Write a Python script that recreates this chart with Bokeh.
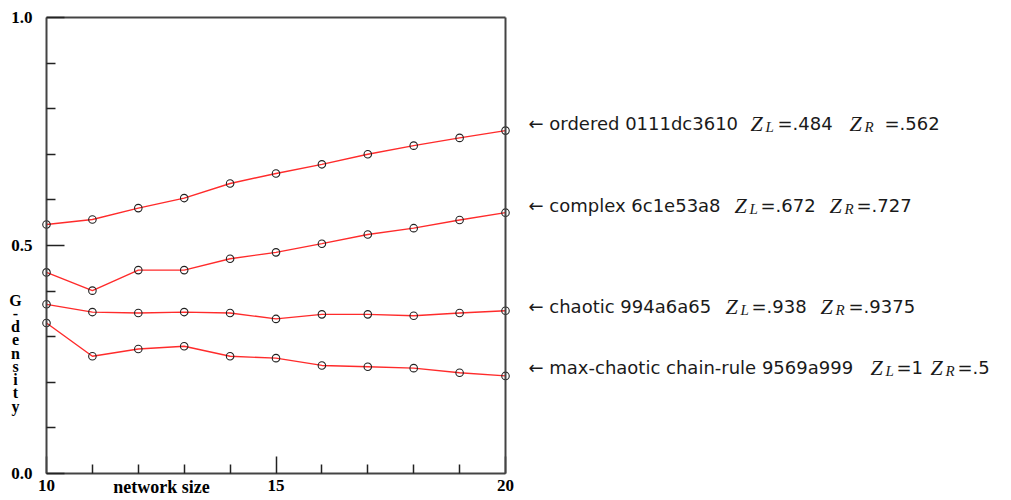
from bokeh.plotting import figure
from bokeh.models import Range1d, FixedTicker, Label, LinearAxis
from bokeh.embed import file_html
from bokeh.resources import INLINE

# ---- data ----
network_size = [10, 11, 12, 13, 14, 15, 16, 17, 18, 19, 20]
ordered      = [0.546, 0.557, 0.582, 0.604, 0.636, 0.658, 0.678, 0.700, 0.719, 0.736, 0.752]
complex_     = [0.441, 0.401, 0.446, 0.446, 0.471, 0.485, 0.504, 0.524, 0.538, 0.556, 0.572]
chaotic      = [0.371, 0.354, 0.352, 0.354, 0.352, 0.339, 0.349, 0.349, 0.346, 0.352, 0.357]
max_chaotic  = [0.330, 0.257, 0.273, 0.279, 0.257, 0.253, 0.237, 0.234, 0.231, 0.221, 0.214]
series = [ordered, complex_, chaotic, max_chaotic]

x_ticks = [10, 15, 20]
x_minor = [11, 12, 13, 14, 16, 17, 18, 19]
y_ticks = [0.0, 0.5, 1.0]
y_tick_labels = ["0.0", "0.5", "1.0"]
y_minor = [0.1, 0.2, 0.3, 0.4, 0.6, 0.7, 0.8, 0.9]

annotations = [
    ("\u2190 ordered 0111dc3610", "=.484", "=.562"),
    ("\u2190 complex 6c1e53a8", "=.672", "=.727"),
    ("\u2190 chaotic 994a6a65", "=.938", "=.9375"),
    ("\u2190 max-chaotic chain-rule 9569a999", "=1", "=.5"),
]
x_label = "network size"
y_label = "G\n-\nd\ne\nn\ns\ni\nt\ny"

# ---- layout (pixels) ----
W, H = 1005, 498
AX_LEFT, AX_RIGHT, AX_TOP, AX_BOTTOM = 46, 505, 17, 473
xs = (AX_RIGHT - AX_LEFT) / (x_ticks[-1] - x_ticks[0])
ys = (AX_BOTTOM - AX_TOP) / (y_ticks[-1] - y_ticks[0])
x_start = x_ticks[0] - AX_LEFT / xs
x_end = x_start + W / xs
y_start = y_ticks[0] - (H - AX_BOTTOM) / ys
y_end = y_ticks[-1] + AX_TOP / ys

# x offsets (px from the last point) of: prefix, Z, value, Z, value
piece_offsets = [
    (23, 245, 272, 344, 379),
    (23, 229, 255, 324, 351),
    (23, 220, 246, 315, 343),
    (23, 365, 391, 425, 452),
]
SUB_DX = 15
baseline_offsets = [7, 7, 4, 8]

RED = "#ff2b2b"
AX = "#444444"
TXT = "#1a1a1a"

p = figure(frame_width=W, frame_height=H,
           min_border_left=0, min_border_right=0, min_border_top=0, min_border_bottom=0,
           x_range=Range1d(x_start, x_end), y_range=Range1d(y_start, y_end),
           x_axis_location=None, y_axis_location=None,
           output_backend="svg", toolbar_location=None, tools="")
p.grid.visible = False
p.outline_line_color = None
p.background_fill_color = "white"
p.border_fill_color = "white"


def style_axis(ax):
    ax.axis_line_color = AX
    ax.axis_line_width = 2
    ax.major_tick_line_color = "#222222"
    ax.minor_tick_line_color = "#222222"
    ax.major_tick_line_width = 1.5
    ax.minor_tick_line_width = 1.5
    ax.major_tick_out = 0
    ax.minor_tick_out = 0
    ax.major_label_text_font = "Liberation Serif"
    ax.major_label_text_font_style = "bold"
    ax.major_label_text_font_size = "17px"
    ax.major_label_text_color = "black"


xaxis = LinearAxis(fixed_location=y_ticks[0], bounds=(x_ticks[0], x_ticks[-1]),
                   ticker=FixedTicker(ticks=x_ticks, minor_ticks=x_minor))
style_axis(xaxis)
xaxis.major_tick_in = 17
xaxis.minor_tick_in = 9
xaxis.major_label_standoff = 6
p.add_layout(xaxis, "below")

yaxis = LinearAxis(fixed_location=x_ticks[0], bounds=(y_ticks[0], y_ticks[-1]),
                   ticker=FixedTicker(ticks=y_ticks, minor_ticks=y_minor))
style_axis(yaxis)
yaxis.major_label_overrides = {t: s for t, s in zip(y_ticks, y_tick_labels)}
yaxis.major_tick_in = 18
yaxis.minor_tick_in = 9
yaxis.major_label_standoff = 14
p.add_layout(yaxis, "left")

# frame borders on the top and right
top = LinearAxis(fixed_location=y_ticks[-1], bounds=(x_ticks[0], x_ticks[-1]),
                 ticker=FixedTicker(ticks=[]))
right = LinearAxis(fixed_location=x_ticks[-1], bounds=(y_ticks[0], y_ticks[-1]),
                   ticker=FixedTicker(ticks=[]))
for ax in (top, right):
    style_axis(ax)
    ax.major_label_text_font_size = "0px"
    ax.major_tick_in = 0
    ax.minor_tick_in = 0
p.add_layout(top, "above")
p.add_layout(right, "right")

for s in series:
    p.line(network_size, s, line_color=RED, line_width=1.4)
    p.scatter(network_size, s, marker="circle", size=7.5, fill_color=None,
              line_color="#222222", line_width=1.1)

p.add_layout(Label(x=x_ticks[0], y=y_ticks[0], x_offset=115, y_offset=-13,
                   text=x_label, text_align="center", text_baseline="alphabetic",
                   text_font="Liberation Serif", text_font_style="bold",
                   text_font_size="18px", text_color="black"))
p.add_layout(Label(x=x_ticks[0], y=y_ticks[0], x_offset=-31, y_offset=182,
                   text=y_label, text_align="center", text_baseline="top",
                   text_font="Liberation Serif", text_font_style="bold",
                   text_font_size="16px", text_color="black",
                   text_line_height=0.78))

for s, (prefix, zl, zr), offs, bo in zip(series, annotations, piece_offsets, baseline_offsets):
    xe, ye = network_size[-1], s[-1]
    pieces = [
        (prefix, offs[0], 0, "DejaVu Sans", "normal", "18px"),
        ("Z", offs[1], 0, "Liberation Serif", "italic", "22px"),
        ("L", offs[1] + SUB_DX, -3, "Liberation Serif", "italic", "15px"),
        (zl, offs[2], 0, "DejaVu Sans", "normal", "18px"),
        ("Z", offs[3], 0, "Liberation Serif", "italic", "22px"),
        ("R", offs[3] + SUB_DX, -3, "Liberation Serif", "italic", "15px"),
        (zr, offs[4], 0, "DejaVu Sans", "normal", "18px"),
    ]
    for txt, dx, dy, font, style, size in pieces:
        p.add_layout(Label(x=xe, y=ye, x_offset=dx, y_offset=bo + dy,
                           text=txt, text_align="left", text_baseline="alphabetic",
                           text_font=font, text_font_style=style,
                           text_font_size=size, text_color=TXT))

open("out.html", "w").write(file_html(p, INLINE))
